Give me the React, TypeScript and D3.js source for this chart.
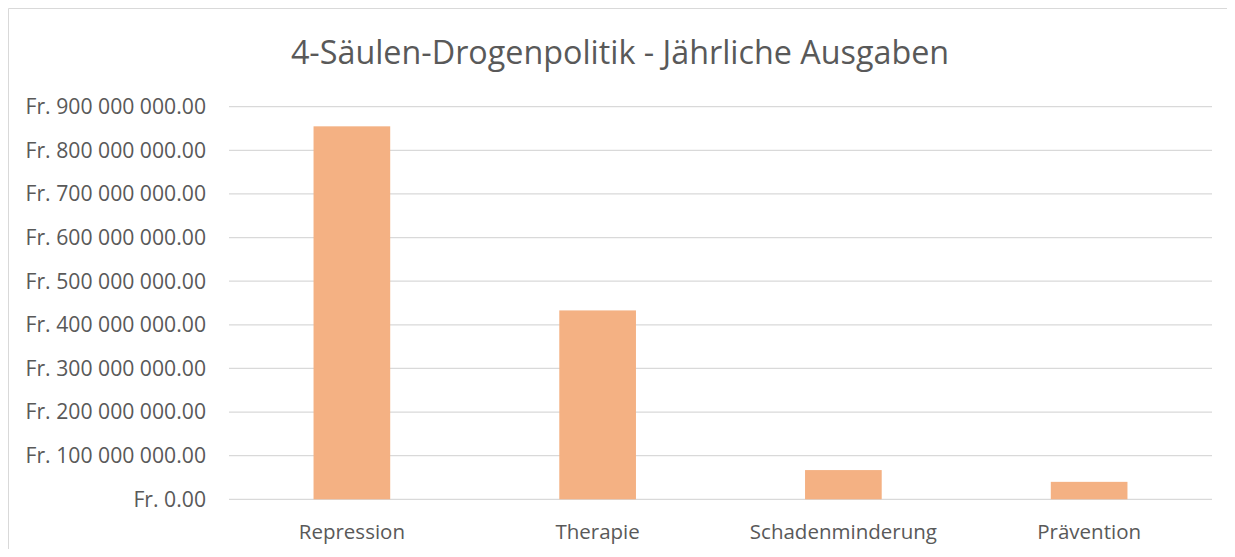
import React, { useEffect, useRef } from 'react';
import * as d3 from 'd3';

const categories = ['Repression', 'Therapie', 'Schadenminderung', 'Prävention'];
const ausgaben = [855000000, 433000000, 67000000, 40000000];
const yTicks = [0, 100000000, 200000000, 300000000, 400000000, 500000000, 600000000, 700000000, 800000000, 900000000];
const title = '4-Säulen-Drogenpolitik - Jährliche Ausgaben';

const W = 1227;
const H = 541;
const FONT = '"Open Sans", "Noto Sans", sans-serif';

const fmt = (v: number) => {
  const s = d3.format(',.2f')(v).replace(/,/g, ' ');
  return 'Fr. ' + s;
};

const App: React.FC = () => {
  const ref = useRef<SVGSVGElement>(null);

  useEffect(() => {
    document.documentElement.style.overflow = 'hidden';

    const svg = d3.select(ref.current);
    svg.selectAll('*').remove();

    const left = 221;
    const right = 1204;
    const top = 98.7;
    const bottom = 491.3;

    // chart frame: only top and left edges fall inside the picture
    svg.append('line')
      .attr('x1', 0.5).attr('x2', W)
      .attr('y1', 0.5).attr('y2', 0.5)
      .attr('stroke', '#d9d9d9');
    svg.append('line')
      .attr('x1', 0.5).attr('x2', 0.5)
      .attr('y1', 0.5).attr('y2', H)
      .attr('stroke', '#d9d9d9');

    svg.append('text')
      .attr('x', 612)
      .attr('y', 56)
      .attr('text-anchor', 'middle')
      .attr('font-family', FONT)
      .attr('font-size', 32.3)
      .attr('fill', '#595959')
      .text(title);

    const x = d3.scaleBand()
      .domain(categories)
      .range([left, right])
      .paddingInner(0.688)
      .paddingOuter(0.344);

    const y = d3.scaleLinear()
      .domain([0, 900000000])
      .range([bottom, top]);

    svg.append('g')
      .selectAll('line')
      .data(yTicks)
      .join('line')
      .attr('x1', left)
      .attr('x2', right)
      .attr('y1', (d) => y(d))
      .attr('y2', (d) => y(d))
      .attr('stroke', '#d9d9d9')
      .attr('stroke-width', 1.3);

    svg.append('g')
      .selectAll('rect')
      .data(ausgaben)
      .join('rect')
      .attr('x', (d, i) => x(categories[i]) as number)
      .attr('y', (d) => y(d))
      .attr('width', x.bandwidth())
      .attr('height', (d) => y(0) - y(d))
      .attr('fill', '#f4b183');

    svg.append('g')
      .selectAll('text')
      .data(yTicks)
      .join('text')
      .attr('x', 198)
      .attr('y', (d) => y(d))
      .attr('dy', '0.35em')
      .attr('text-anchor', 'end')
      .attr('font-family', FONT)
      .attr('font-size', 21.2)
      .attr('fill', '#595959')
      .text((d) => fmt(d));

    svg.append('g')
      .selectAll('text')
      .data(categories)
      .join('text')
      .attr('x', (d) => (x(d) as number) + x.bandwidth() / 2)
      .attr('y', 531)
      .attr('text-anchor', 'middle')
      .attr('font-family', FONT)
      .attr('font-size', 20.5)
      .attr('fill', '#595959')
      .text((d) => d);
  }, []);

  return <svg ref={ref} width={W} height={H} style={{ display: 'block' }} />;
};

export default App;
